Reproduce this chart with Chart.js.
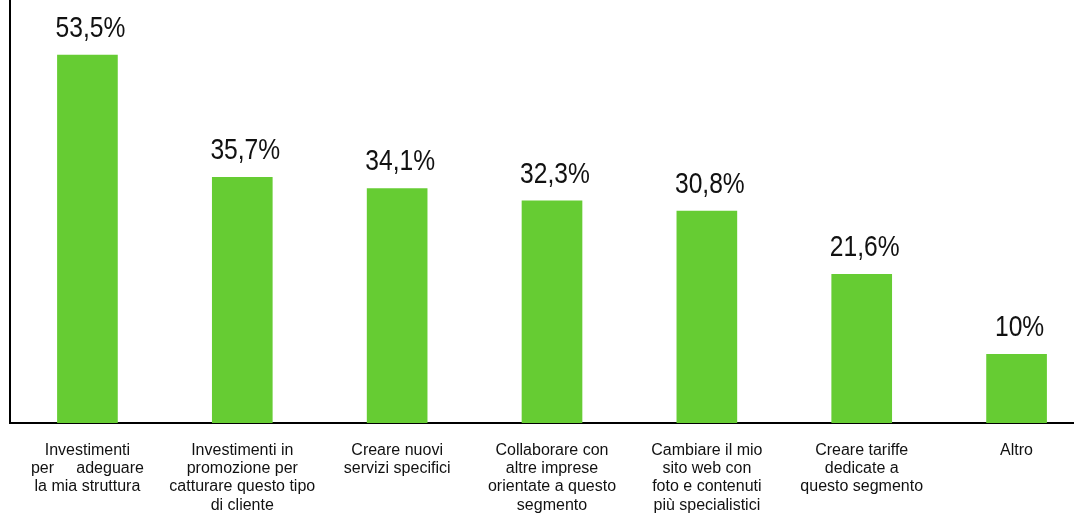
<!DOCTYPE html>
<html>
<head>
<meta charset="utf-8">
<script src="https://cdn.jsdelivr.net/npm/chart.js@4/dist/chart.umd.min.js"></script>
<style>
  html, body { margin: 0; padding: 0; background: #fff; overflow: hidden; }
  .wrap { width: 1094px; height: 513px; }
</style>
</head>
<body>
<div class="wrap"><canvas id="myChart"></canvas></div>
<script>
const categories = [
  ['Investimenti', 'per     adeguare', 'la mia struttura'],
  ['Investimenti in', 'promozione per', 'catturare questo tipo', 'di cliente'],
  ['Creare nuovi', 'servizi specifici'],
  ['Collaborare con', 'altre imprese', 'orientate a questo', 'segmento'],
  ['Cambiare il mio', 'sito web con', 'foto e contenuti', 'più specialistici'],
  ['Creare tariffe', 'dedicate a', 'questo segmento'],
  ['Altro'],
];
const values = [53.5, 35.7, 34.1, 32.3, 30.8, 21.6, 10];
const valueLabels = ['53,5%', '35,7%', '34,1%', '32,3%', '30,8%', '21,6%', '10%'];

// writes the percentage above each bar (narrow, tall text like the original)
const valueLabelPlugin = {
  id: 'valueLabels',
  afterDatasetsDraw(chart) {
    const ctx = chart.ctx;
    const meta = chart.getDatasetMeta(0);
    meta.data.forEach((bar, i) => {
      ctx.save();
      ctx.translate(bar.x + 3, bar.y - 18);
      ctx.scale(0.82, 1);
      ctx.font = '30px "Liberation Sans", Arial, sans-serif';
      ctx.fillStyle = '#111';
      ctx.textAlign = 'center';
      ctx.textBaseline = 'alphabetic';
      ctx.fillText(valueLabels[i], 0, 0);
      ctx.restore();
    });
  },
};

const ctx = document.getElementById('myChart').getContext('2d');

const chart = new Chart(ctx, {
  type: 'bar',
  data: {
    labels: categories,
    datasets: [
      {
        data: values,
        backgroundColor: '#66cc33',
        borderWidth: 0,
        barThickness: 60,
      },
    ],
  },
  options: {
    responsive: true,
    maintainAspectRatio: false,
    animation: false,
    layout: {
      padding: { left: 10, right: 0, top: 0, bottom: 0 },
    },
    scales: {
      x: {
        grid: { display: false },
        border: { display: true, color: '#000', width: 2 },
        afterFit: (scale) => {
          scale.height = 90;
        },
        ticks: {
          autoSkip: false,
          maxRotation: 0,
          minRotation: 0,
          padding: 10,
          color: '#111',
          font: { family: '"Liberation Sans", Arial, sans-serif', size: 16, lineHeight: 1.15 },
        },
      },
      y: {
        min: 0,
        max: 61.5,
        grid: { display: false },
        border: { display: true, color: '#000', width: 2 },
        afterFit: (scale) => {
          scale.width = 0;
        },
        ticks: { display: false },
      },
    },
    plugins: {
      legend: { display: false },
      tooltip: { enabled: false },
    },
  },
  plugins: [valueLabelPlugin],
});
</script>
</body>
</html>
